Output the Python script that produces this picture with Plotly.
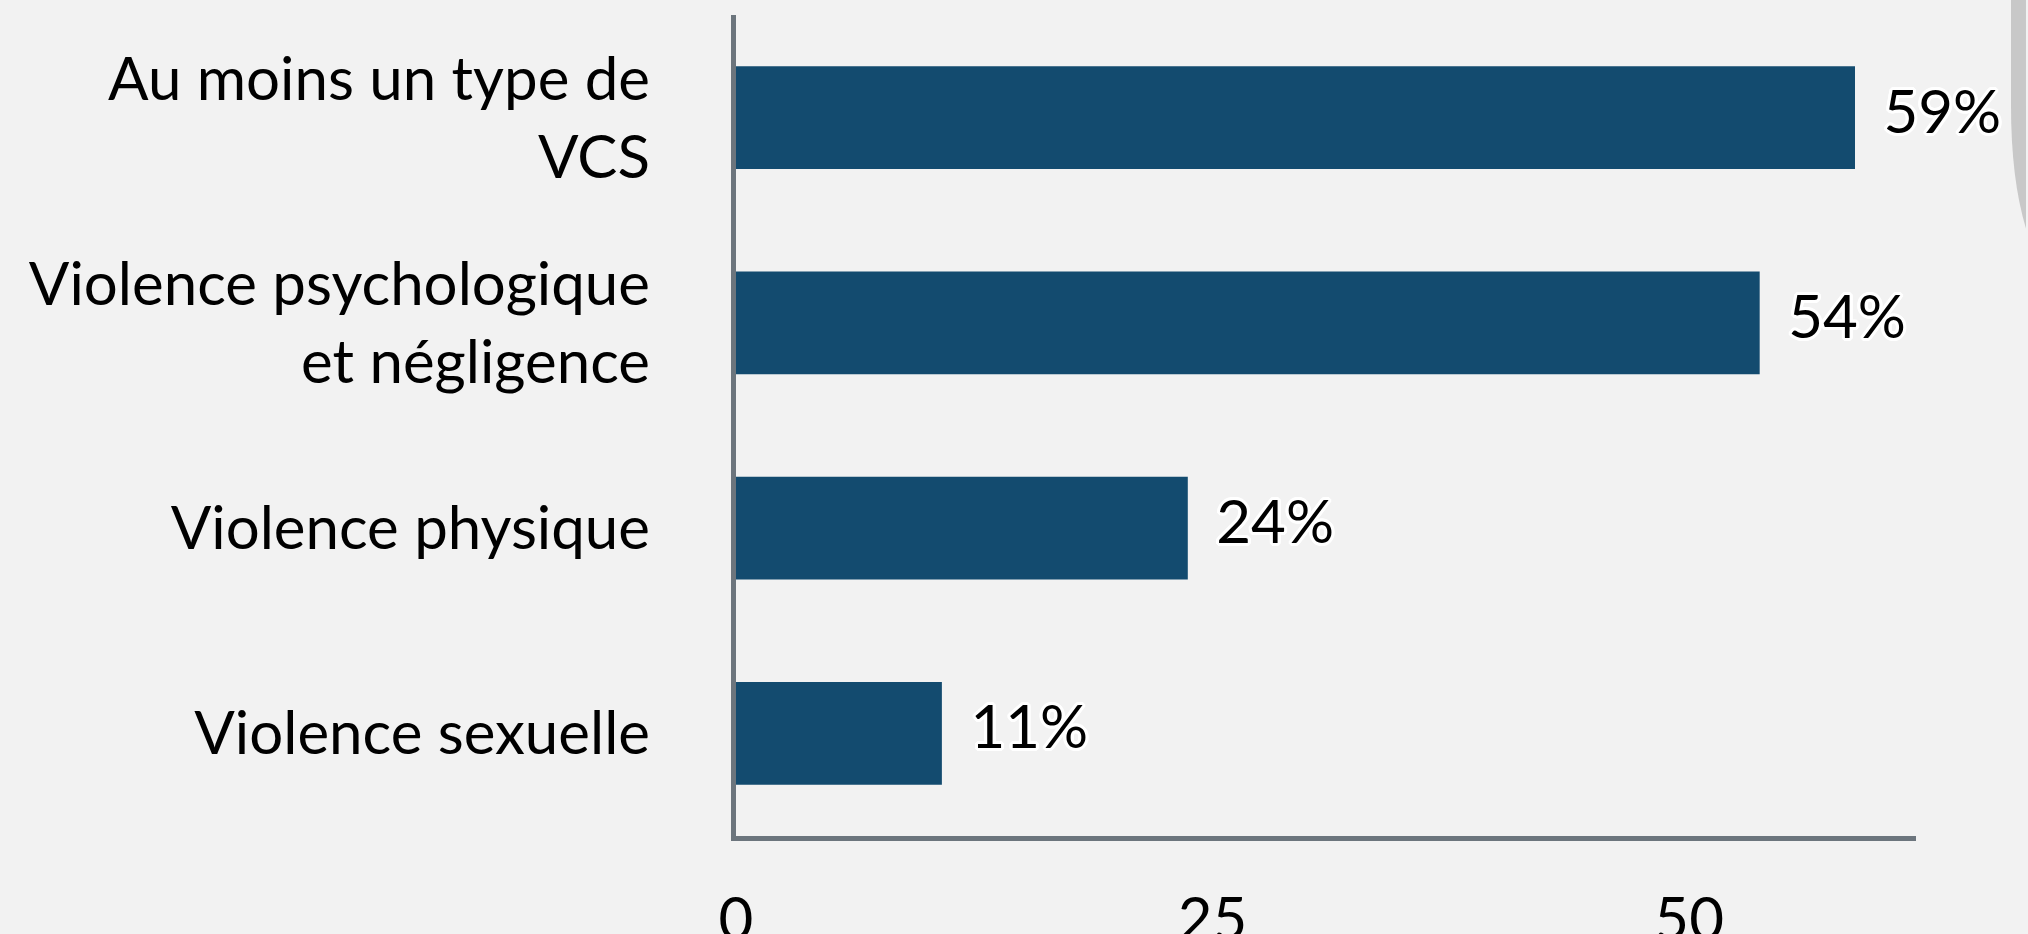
import plotly.graph_objects as go

categories = ["Au moins un type de<br>VCS", "Violence psychologique<br>et négligence",
              "Violence physique", "Violence sexuelle"]
values = [58.7, 53.7, 23.7, 10.8]
labels = ["59%", "54%", "24%", "11%"]
x_ticks = [0, 25, 50]

BG = "#f2f2f2"
BAR = "#134b6f"
AXIS = "#6c757d"
FONT = "Lato"

outline = ", ".join(
    f"{dx}px {dy}px 0 white" for dx, dy in
    [(3, 0), (-3, 0), (0, 3), (0, -3), (2, 2), (-2, 2), (2, -2), (-2, -2),
     (3, 1), (3, -1), (-3, 1), (-3, -1), (1, 3), (-1, 3), (1, -3), (-1, -3)]
)

fig = go.Figure()
fig.add_trace(go.Bar(
    x=values, y=categories, orientation="h",
    marker=dict(color=BAR, line=dict(width=0)),
    width=0.5, hoverinfo="skip",
))
fig.add_trace(go.Scatter(
    x=values, y=categories, text=labels, mode="markers+text",
    textposition="middle right",
    marker=dict(size=44, color="rgba(0,0,0,0)"),
    textfont=dict(family=FONT, size=60, color="black", shadow=outline),
    hoverinfo="skip", cliponaxis=False,
))

fig.update_layout(
    width=2028, height=934,
    margin=dict(l=736, r=112, t=15, b=98, pad=0),
    paper_bgcolor=BG, plot_bgcolor=BG,
    showlegend=False,
    font=dict(family=FONT, size=60, color="black"),
    shapes=[dict(
        type="path", xref="paper", yref="paper", layer="above",
        path="M 1.0805 1.03 L 1.0805 0.89 Q 1.0805 0.80 1.0932 0.74 L 1.0932 1.03 Z",
        fillcolor="#c8c8c8", line=dict(width=0),
    )],
)
fig.update_xaxes(
    range=[0, 61.9], tickvals=x_ticks, ticktext=[str(t) for t in x_ticks],
    showgrid=False, zeroline=False, showline=True, linecolor=AXIS, linewidth=5,
    ticks="", ticklabelstandoff=27, automargin=False,
    tickfont=dict(family=FONT, size=60, color="black"), fixedrange=True,
)
fig.update_yaxes(
    autorange="reversed", showgrid=False, zeroline=False, showline=True,
    linecolor=AXIS, linewidth=5, ticks="", ticklabelstandoff=69, automargin=False,
    tickfont=dict(family=FONT, size=60, color="black"), fixedrange=True,
)

fig.write_html(
    "out.html", config={"displayModeBar": False},
    post_script="document.body.style.margin='0';document.body.style.background='#f2f2f2';document.body.style.overflow='hidden';",
)
